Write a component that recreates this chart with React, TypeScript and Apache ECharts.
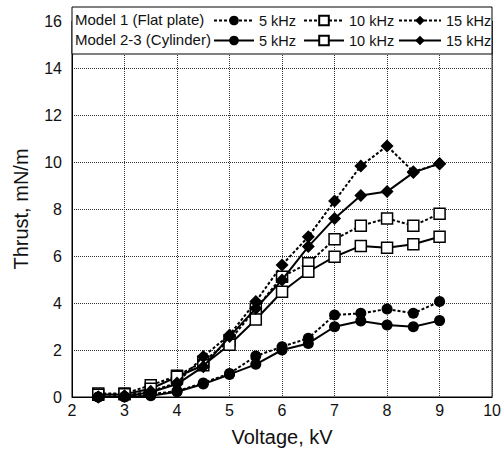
import React, { useEffect, useRef } from "react";
import * as echarts from "echarts";

const voltages = [2.5, 3, 3.5, 4, 4.5, 5, 5.5, 6, 6.5, 7, 7.5, 8, 8.5, 9];
const m1_5k = [0, 0.02, 0.12, 0.25, 0.6, 1.0, 1.74, 2.14, 2.5, 3.49, 3.56, 3.74, 3.56, 4.06];
const m23_5k = [0, 0, 0.05, 0.22, 0.55, 0.96, 1.39, 2.0, 2.28, 2.99, 3.23, 3.06, 2.99, 3.25];
const m1_10k = [0.15, 0.15, 0.5, 0.9, 1.5, 2.4, 3.75, 5.12, 5.69, 6.71, 7.29, 7.6, 7.29, 7.8];
const m23_10k = [0.1, 0.12, 0.35, 0.86, 1.35, 2.22, 3.3, 4.48, 5.33, 5.97, 6.43, 6.35, 6.5, 6.82];
const m1_15k = [0, 0.05, 0.25, 0.6, 1.72, 2.64, 4.06, 5.62, 6.82, 8.34, 9.83, 10.68, 9.59, 9.92];
const m23_15k = [0, 0.03, 0.2, 0.55, 1.29, 2.57, 3.77, 4.98, 6.4, 7.6, 8.57, 8.74, 9.55, 9.94];

const rowLabels = ["Model 1 (Flat plate)", "Model 2-3 (Cylinder)"];
const freqLabels = ["5 kHz", "10 kHz", "15 kHz"];

const FONT = "Liberation Sans, Arial, Helvetica, sans-serif";

export default function App() {
  const ref = useRef<HTMLDivElement>(null);
  useEffect(() => {
    if (!ref.current) return;
    const chart = echarts.init(ref.current, null, { renderer: "svg" });
    const pair = (ys: number[]) => voltages.map((v, i) => [v, ys[i]]);
    const dashed = [3, 2];
    const mk = (
      name: string,
      ys: number[],
      symbol: string,
      size: number,
      hollow: boolean,
      isDashed: boolean
    ) => ({
      type: "line",
      name,
      data: pair(ys),
      symbol,
      symbolSize: size,
      showSymbol: true,
      lineStyle: { color: "#000", width: 2, type: isDashed ? dashed : "solid" },
      itemStyle: hollow
        ? { color: "#fff", borderColor: "#000", borderWidth: 1.5 }
        : { color: "#000", borderColor: "#000", borderWidth: 0 },
      z: hollow ? 3 : 4,
    });
    const series = [
      mk("A|" + freqLabels[0], m1_5k, "circle", 11, false, true),
      mk("A|" + freqLabels[1], m1_10k, "rect", 11, true, true),
      mk("A|" + freqLabels[2], m1_15k, "diamond", 13, false, true),
      mk("B|" + freqLabels[0], m23_5k, "circle", 11, false, false),
      mk("B|" + freqLabels[1], m23_10k, "rect", 11, true, false),
      mk("B|" + freqLabels[2], m23_15k, "diamond", 13, false, false),
    ];
    const lefts = [213, 303, 398];
    const widths = [40, 40, 42];
    const legends: any[] = [];
    ["A", "B"].forEach((p, r) => {
      freqLabels.forEach((f, i) => {
        legends.push({
          data: [p + "|" + f],
          left: lefts[i],
          top: r === 0 ? 13 : 33,
          itemWidth: widths[i],
          itemHeight: 12,
          itemGap: 0,
          padding: 0,
          selectedMode: false,
          formatter: (n: string) => n.split("|")[1],
          textStyle: { fontSize: 14.5, color: "#111", fontFamily: FONT },
          z: 10,
        });
      });
    });
    chart.setOption({
      animation: false,
      backgroundColor: "#fff",
      grid: {
        left: 72,
        right: 11,
        top: 21,
        bottom: 59,
        show: true,
        borderColor: "#000",
        borderWidth: 1,
        backgroundColor: "transparent",
      },
      legend: legends,
      xAxis: {
        type: "value",
        min: 2,
        max: 10,
        interval: 1,
        name: "Voltage, kV",
        nameLocation: "middle",
        nameGap: 30,
        nameTextStyle: { fontSize: 20, color: "#111", fontFamily: FONT },
        axisLine: { show: true, lineStyle: { color: "#000", width: 1 } },
        axisTick: { show: false },
        axisLabel: { fontSize: 16, color: "#111", fontFamily: FONT, margin: 5 },
        splitLine: { show: true, lineStyle: { color: "#333", type: [1, 1], width: 1 } },
      },
      yAxis: {
        type: "value",
        min: 0,
        max: 16,
        interval: 2,
        name: "Thrust, mN/m",
        nameLocation: "middle",
        nameGap: 41,
        nameTextStyle: { fontSize: 20, color: "#111", fontFamily: FONT },
        axisLine: { show: true, lineStyle: { color: "#000", width: 1 } },
        axisTick: { show: false },
        axisLabel: { fontSize: 16, color: "#111", fontFamily: FONT, margin: 10 },
        splitLine: { show: true, lineStyle: { color: "#333", type: [1, 1], width: 1 } },
      },
      graphic: [
        {
          type: "rect",
          shape: { x: 72, y: 7, width: 420, height: 47 },
          style: { fill: "#fff", stroke: "#000", lineWidth: 1 },
          z: 8,
        },
        {
          type: "text",
          x: 75,
          y: 19,
          style: { text: rowLabels[0], fontSize: 15, fill: "#111", fontFamily: FONT, textVerticalAlign: "middle" },
          z: 9,
        },
        {
          type: "text",
          x: 75,
          y: 39,
          style: { text: rowLabels[1], fontSize: 15, fill: "#111", fontFamily: FONT, textVerticalAlign: "middle" },
          z: 9,
        },
      ],
      series,
    });
    return () => chart.dispose();
  }, []);
  return <div ref={ref} style={{ width: 504, height: 456, position: "absolute", left: 0, top: 0 }} />;
}
